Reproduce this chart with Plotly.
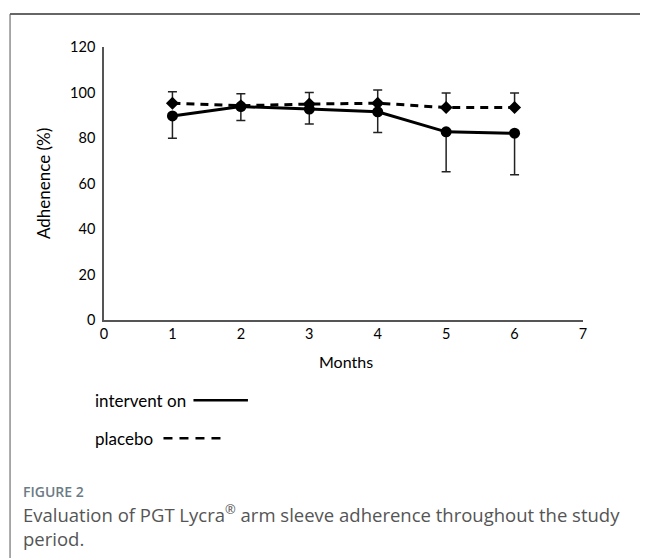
import plotly.graph_objects as go

months = [1, 2, 3, 4, 5, 6]
intervention = [89.7, 93.8, 92.7, 91.5, 82.7, 82.1]
intervention_sd_minus = [9.8, 6.1, 6.5, 9.1, 17.5, 18.3]
placebo = [95.3, 94.2, 94.9, 95.3, 93.4, 93.4]
placebo_sd_plus = [5.0, 5.2, 5.1, 5.8, 6.4, 6.4]
y_ticks = [0, 20, 40, 60, 80, 100, 120]
x_ticks = [0, 1, 2, 3, 4, 5, 6, 7]

# page body has an 8px margin; work in window pixels and convert
OFF = 8
WIN_W, WIN_H = 648, 558
W, H = WIN_W - OFF, WIN_H - OFF
AX_L, AX_R, AX_T, AX_B = 103.5, 582.7, 47, 320.5   # window pixels of the axes box
L, R, T, B = AX_L - OFF, WIN_W - AX_R, AX_T - OFF, WIN_H - AX_B
PW, PH = AX_R - AX_L, AX_B - AX_T

def px(x):
    return (x - AX_L) / PW

def py(y):
    return (AX_B - y) / PH

FONT = "Lato"
fig = go.Figure()
fig.add_trace(go.Scatter(
    x=months, y=placebo, name="placebo", mode="lines+markers",
    line=dict(color="black", width=3, dash="8px,6px"),
    marker=dict(symbol="diamond", size=10, color="black"),
    error_y=dict(type="data", symmetric=False, array=placebo_sd_plus,
                 arrayminus=[0] * 6, color="#222", thickness=1.5, width=4.5),
))
fig.add_trace(go.Scatter(
    x=months, y=intervention, name="intervent on", mode="lines+markers",
    line=dict(color="black", width=3),
    marker=dict(symbol="circle", size=11, color="black"),
    error_y=dict(type="data", symmetric=False, array=[0] * 6,
                 arrayminus=intervention_sd_minus, color="#222", thickness=1.5, width=4.5),
))

fig.update_layout(
    width=W, height=H, showlegend=False,
    margin=dict(l=L, r=R, t=T, b=B, pad=0),
    plot_bgcolor="white", paper_bgcolor="white",
    font=dict(family=FONT, size=14, color="black"),
    xaxis=dict(range=[0, 7], tickvals=x_ticks, showgrid=False, zeroline=False,
               showline=True, linecolor="#555", linewidth=1.5, ticks="",
               tickfont=dict(size=14.5, family=FONT)),
    yaxis=dict(range=[0, 120], tickvals=y_ticks, showgrid=False, zeroline=False,
               showline=True, linecolor="#555", linewidth=1.5, ticks="",
               ticklabelstandoff=4, tickfont=dict(size=14.5, family=FONT)),
)

CAP = "Open Sans"
anns = [
    dict(x=px(346), y=py(362), text="Months", font=dict(size=16)),
    dict(x=px(43), y=py(183.7), text="Adhenence (%)", textangle=-90, font=dict(size=17)),
    dict(x=px(92), y=py(401), text="intervent on", xanchor="left", font=dict(size=17)),
    dict(x=px(92), y=py(439), text="placebo", xanchor="left", font=dict(size=17)),
    dict(x=px(20), y=py(492), text="FIGURE 2", xanchor="left",
         font=dict(size=14, color="#6b7b85", family=CAP, weight=600)),
    dict(x=px(20), y=py(526), text="Evaluation of PGT Lycra<sup>®</sup> arm sleeve adherence throughout the study<br>period.",
         xanchor="left", align="left", font=dict(size=18.5, color="#555", family=CAP)),
]
for a in anns:
    a.update(xref="paper", yref="paper", showarrow=False)
    a.setdefault("xanchor", "center")
    a.setdefault("yanchor", "middle")
    fig.add_annotation(**a)

shapes = [
    # frame
    dict(type="line", x0=px(9.5), x1=px(660), y0=py(14), y1=py(14), line=dict(color="#333", width=1.5)),
    dict(type="line", x0=px(9.5), x1=px(9.5), y0=py(14), y1=py(570), line=dict(color="#555", width=1)),
    # legend lines
    dict(type="line", x0=px(193), x1=px(247.5), y0=py(401), y1=py(401), line=dict(color="black", width=2.5)),
    dict(type="line", x0=px(163), x1=px(226), y0=py(439), y1=py(439), line=dict(color="black", width=2.5, dash="9px,7px")),
]
for s in shapes:
    s.update(xref="paper", yref="paper")
    fig.add_shape(**s)

fig.write_html("out.html")
